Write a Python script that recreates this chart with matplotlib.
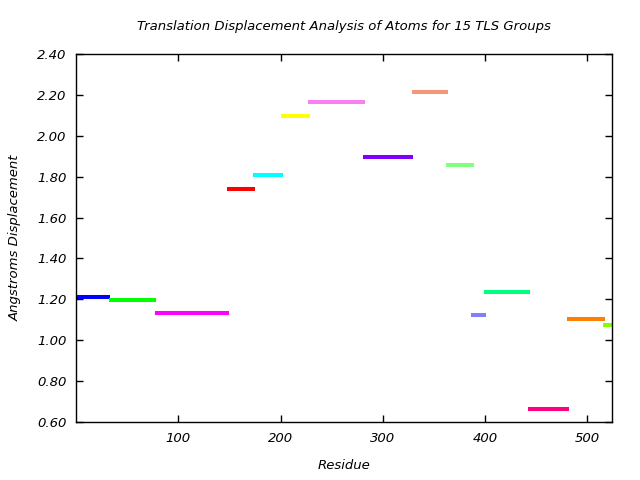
import matplotlib
matplotlib.use("Agg")
import matplotlib.pyplot as plt

# residue ranges of the 15 TLS groups and their translation displacement
starts = [0, 32, 77, 148, 173, 200, 227, 281, 328, 362, 386, 399, 442, 480, 515]
ends = [33, 78, 150, 175, 202, 229, 283, 329, 364, 389, 401, 444, 482, 517, 526]
displacement = [1.21, 1.195, 1.132, 1.738, 1.807, 2.096, 2.164, 1.895,
                2.213, 1.856, 1.122, 1.234, 0.662, 1.102, 1.073]
colors = ["#0000ff", "#00ff00", "#ff00ff", "#ff0000", "#00ffff", "#ffff00",
          "#f880f0", "#8000ff", "#f4967a", "#80ff80", "#8080ff", "#00ff80",
          "#ff0080", "#ff8000", "#80ff00"]
yticks = [0.6, 0.8, 1.0, 1.2, 1.4, 1.6, 1.8, 2.0, 2.2, 2.4]
xticks = [100, 200, 300, 400, 500]

fig = plt.figure(figsize=(6.4, 4.8), dpi=100)
ax = fig.add_axes([0.11875, 0.1208, 0.8375, 0.7667])

for x0, x1, y, c in zip(starts, ends, displacement, colors):
    ax.plot([x0, x1], [y, y], color=c, lw=2.9, solid_capstyle="butt", zorder=3)

ax.set_xlim(0, 524)
ax.set_ylim(0.6, 2.4)
ax.set_xticks(xticks)
ax.set_yticks(yticks)
ax.set_yticklabels(["%.2f" % v for v in yticks])
ax.tick_params(direction="in", length=5, width=1, top=True, right=True,
               labelsize=9.5, pad=7)
for lab in ax.get_xticklabels() + ax.get_yticklabels():
    lab.set_fontstyle("italic")
for s in ax.spines.values():
    s.set_linewidth(1)
    s.set_zorder(4)

ax.set_xlabel("Residue", fontsize=9.5, style="italic", labelpad=10)
ax.set_ylabel("Angstroms Displacement", fontsize=9.5, style="italic", labelpad=11)
ax.set_title("Translation Displacement Analysis of Atoms for 15 TLS Groups",
             fontsize=9.5, style="italic", pad=17)

fig.savefig("out.png", dpi=100)
